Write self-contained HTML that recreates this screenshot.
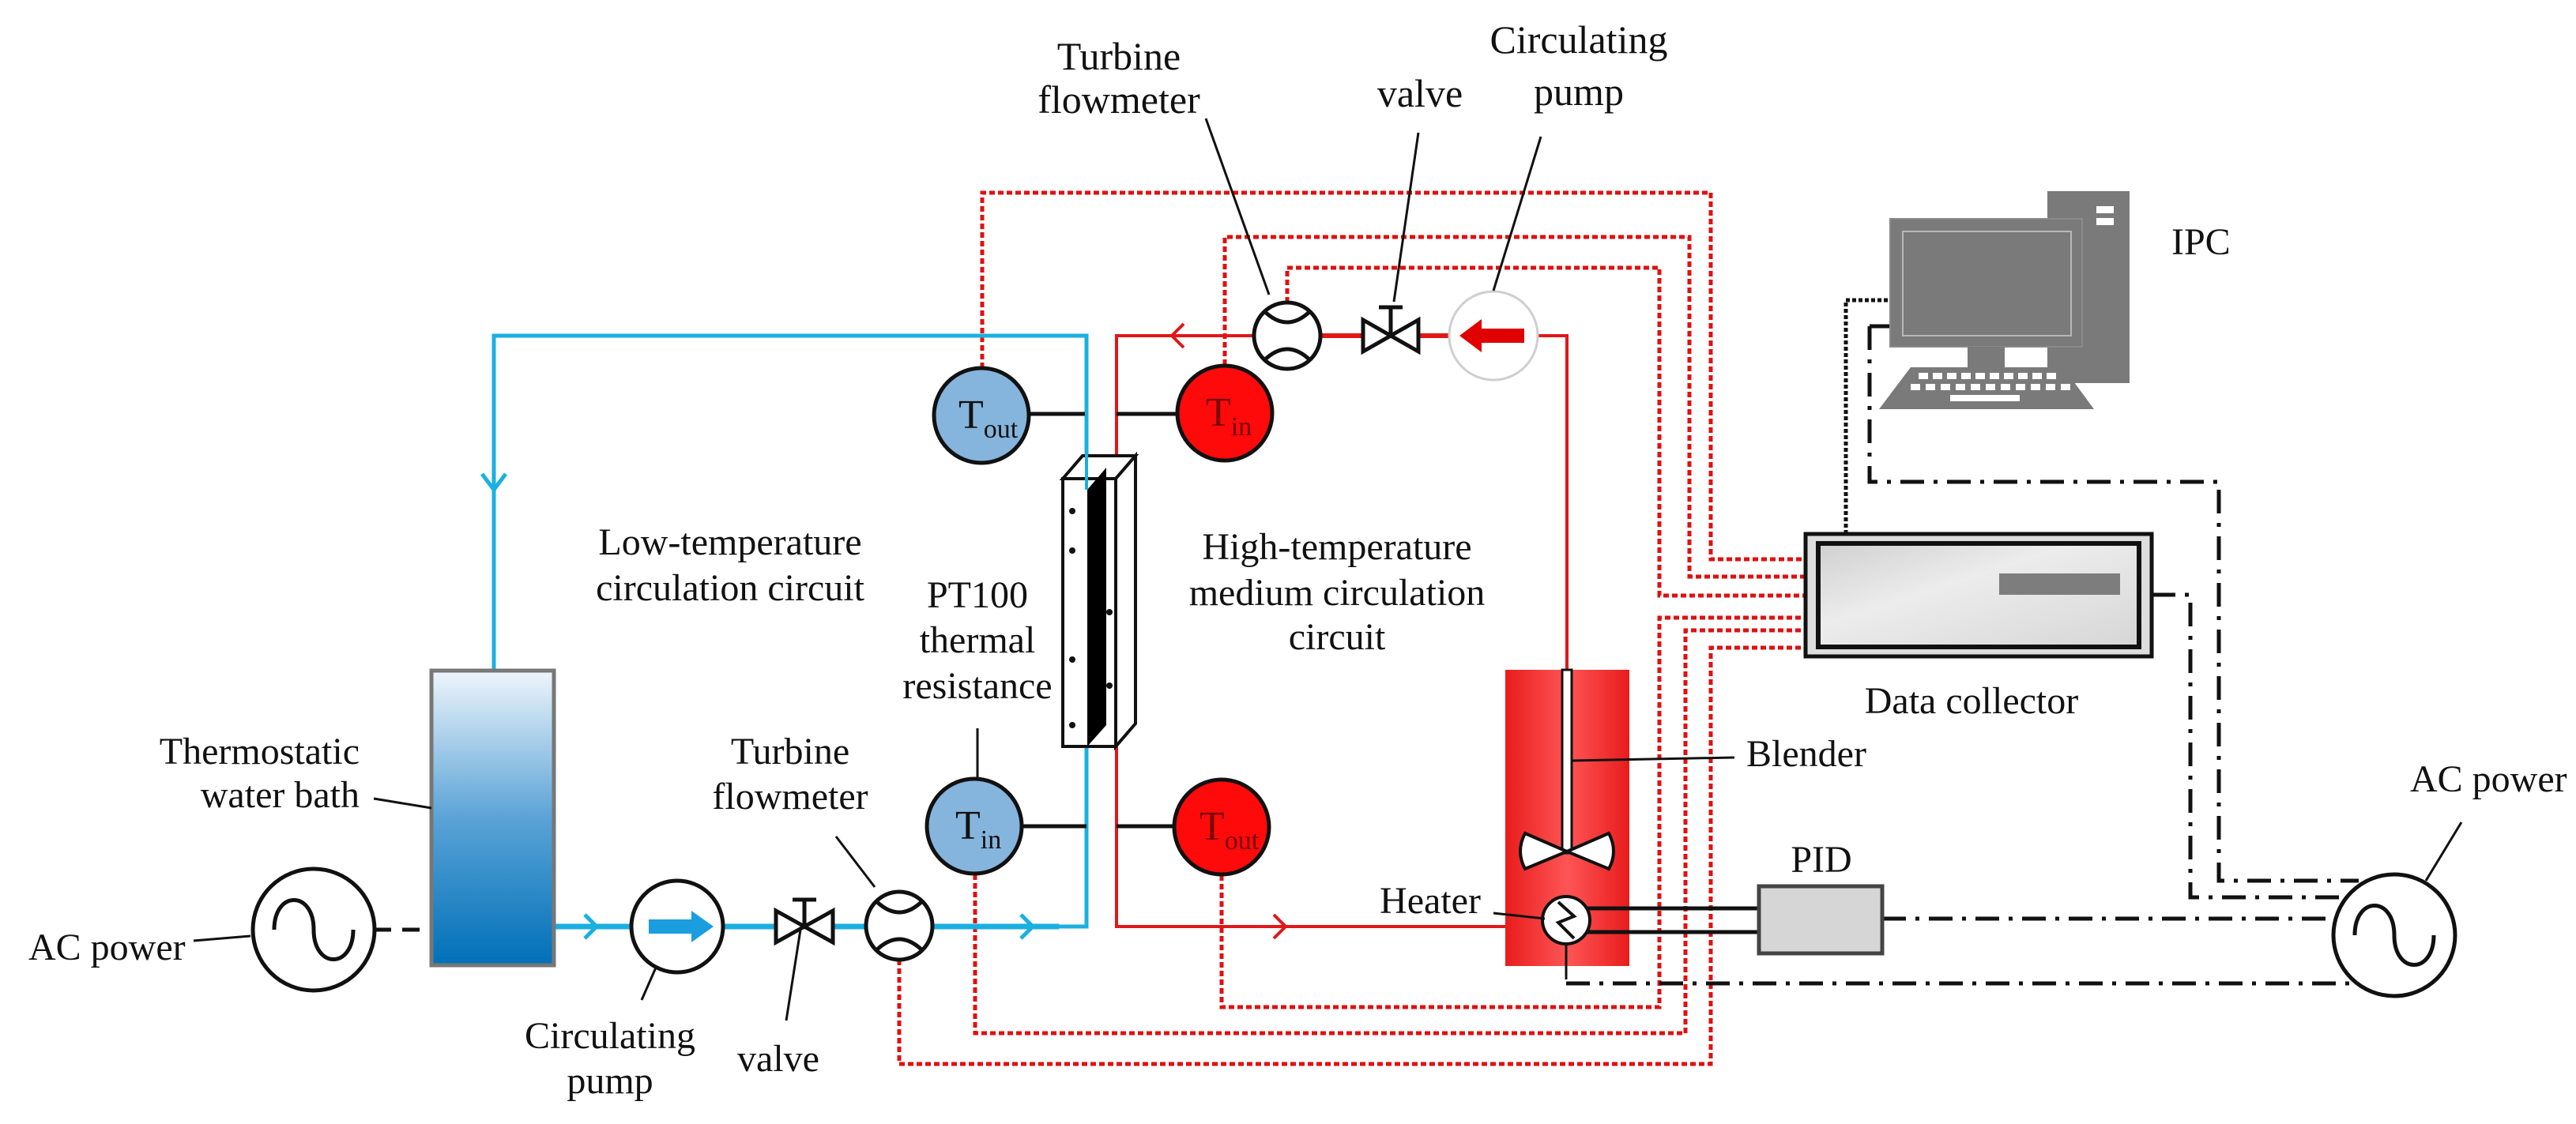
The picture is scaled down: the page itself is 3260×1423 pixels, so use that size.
<!DOCTYPE html>
<html><head><meta charset="utf-8"><style>html,body{margin:0;padding:0;background:#fff}svg{display:block}text{font-family:"Liberation Serif",serif;fill:#111}</style></head><body>
<svg width="3260" height="1423" viewBox="0 0 3260 1423" xmlns="http://www.w3.org/2000/svg">
<defs>
<linearGradient id="tank" x1="0" y1="0" x2="0" y2="1"><stop offset="0" stop-color="#eef5fb"/><stop offset="0.5" stop-color="#5aa3d6"/><stop offset="1" stop-color="#0070b8"/></linearGradient>
<linearGradient id="redt" x1="0" y1="0" x2="1" y2="0"><stop offset="0" stop-color="#e81c1c"/><stop offset="0.5" stop-color="#ff5555"/><stop offset="1" stop-color="#e81c1c"/></linearGradient>
<linearGradient id="dc" x1="0" y1="0" x2="1" y2="1"><stop offset="0" stop-color="#d0d0d0"/><stop offset="0.4" stop-color="#ececec"/><stop offset="1" stop-color="#d6d6d6"/></linearGradient>
</defs>

<g fill="none" stroke="#e01010" stroke-width="5" stroke-dasharray="7 4">
<polyline points="1243,466 1243,244 2165,244 2165,708 2285,708"/>
<polyline points="1550,462 1550,300 2138,300 2138,730 2285,730"/>
<polyline points="1629,383 1629,339 2100,339 2100,754 2285,754"/>
<polyline points="1546,1108 1546,1275 2100,1275 2100,782 2285,782"/>
<polyline points="1234,1107 1234,1308 2133,1308 2133,798 2285,798"/>
<polyline points="1138,1215 1138,1347 2165,1347 2165,820 2285,820"/>
</g>

<g fill="none" stroke="#111" stroke-width="5" stroke-dasharray="30 12 5 12">
<line x1="473" y1="1177" x2="546" y2="1177" stroke-dasharray="22 14"/>
<polyline points="2366,413 2366,610 2808,610 2808,1115 2985,1115"/>
<polyline points="2723,753 2772,753 2772,1136 2965,1136"/>
<line x1="2382" y1="1163" x2="2953" y2="1163"/>
<line x1="1982" y1="1245" x2="2985" y2="1245"/>
</g>
<line x1="2366" y1="413" x2="2398" y2="413" stroke="#111" stroke-width="5"/>
<polyline points="2336,676 2336,380 2402,380" fill="none" stroke="#111" stroke-width="5" stroke-dasharray="5 3"/>

<g fill="none" stroke="#1ab0e0" stroke-width="5">
<polyline points="625,849 625,425 1375,425 1375,1173 701,1173"/>
<polyline points="610,600 625,620 640,600"/>
<polyline points="740,1158 755,1173 740,1188"/>
<polyline points="1292,1158 1307,1173 1292,1188"/>
</g>
<line x1="701" y1="1173" x2="1340" y2="1173" stroke="#1ab0e0" stroke-width="7"/>

<g fill="none" stroke="#e01818" stroke-width="4">
<polyline points="1983,848 1983,425 1413,425 1413,1173 1905,1173"/>
<polyline points="1498,410 1483,425 1498,440"/>
<polyline points="1612,1158 1627,1173 1612,1188"/>
</g>
<line x1="1670" y1="425" x2="1850" y2="425" stroke="#e01818" stroke-width="6"/>

<rect x="546" y="849" width="155" height="373" fill="url(#tank)" stroke="#777" stroke-width="5"/>

<circle cx="397" cy="1177" r="77" fill="#fff" stroke="#111" stroke-width="5"/>
<path d="M347,1177 C347,1127 397,1127 397,1177 C397,1227 447,1227 447,1177" fill="none" stroke="#111" stroke-width="5"/>
<line x1="245" y1="1191" x2="317" y2="1185" stroke="#111" stroke-width="3"/>
<text x="36" y="1215" font-size="48">AC power</text>
<text x="455" y="967" font-size="48" text-anchor="end">Thermostatic</text>
<text x="455" y="1022" font-size="48" text-anchor="end">water bath</text>
<line x1="473" y1="1011" x2="546" y2="1023" stroke="#111" stroke-width="3"/>

<circle cx="857" cy="1173" r="58" fill="#fff" stroke="#111" stroke-width="5"/>
<path d="M821,1164 L875,1164 L875,1153 L903,1173 L875,1193 L875,1182 L821,1182 Z" fill="#1a9ee0"/>
<line x1="830" y1="1225" x2="812" y2="1266" stroke="#111" stroke-width="3"/>
<text x="772" y="1327" font-size="48" text-anchor="middle">Circulating</text>
<text x="772" y="1384" font-size="48" text-anchor="middle">pump</text>

<g stroke="#111" stroke-width="5" fill="#fff">
<polygon points="982,1153 1018,1173 982,1193"/><polygon points="1054,1153 1018,1173 1054,1193"/>
<line x1="1018" y1="1173" x2="1018" y2="1139"/><line x1="1003" y1="1139" x2="1033" y2="1139"/>
</g>
<line x1="1013" y1="1177" x2="995" y2="1292" stroke="#111" stroke-width="3"/>
<text x="985" y="1356" font-size="48" text-anchor="middle">valve</text>

<ellipse cx="1138" cy="1172" rx="42" ry="43" fill="#fff" stroke="#111" stroke-width="5"/>
<path d="M1108,1140 Q1138,1170 1168,1140 M1108,1204 Q1138,1174 1168,1204" fill="none" stroke="#111" stroke-width="5"/>
<line x1="1058" y1="1059" x2="1107" y2="1123" stroke="#111" stroke-width="3"/>
<text x="1000" y="967" font-size="48" text-anchor="middle">Turbine</text>
<text x="1000" y="1024" font-size="48" text-anchor="middle">flowmeter</text>

<text x="924" y="702" font-size="48" text-anchor="middle">Low-temperature</text>
<text x="924" y="760" font-size="48" text-anchor="middle">circulation circuit</text>

<g stroke="#111" stroke-width="5">
<line x1="1300" y1="524" x2="1375" y2="524"/><line x1="1413" y1="524" x2="1490" y2="524"/>
<line x1="1293" y1="1046" x2="1375" y2="1046"/><line x1="1413" y1="1046" x2="1486" y2="1046"/>
</g>
<line x1="1237" y1="922" x2="1237" y2="986" stroke="#111" stroke-width="3"/>

<g stroke="#111" stroke-width="5">
<circle cx="1242" cy="526" r="60" fill="#85b4dc"/>
<circle cx="1233" cy="1046" r="60" fill="#85b4dc"/>
<circle cx="1550" cy="523" r="60" fill="#ff0a0a"/>
<circle cx="1546" cy="1047" r="60" fill="#ff0a0a"/>
</g>
<text x="1213" y="542" font-size="52">T<tspan font-size="34" dy="12">out</tspan></text>
<text x="1209" y="1062" font-size="52">T<tspan font-size="34" dy="12">in</tspan></text>
<text x="1526" y="539" font-size="52" style="fill:#700">T<tspan font-size="34" dy="12">in</tspan></text>
<text x="1518" y="1063" font-size="52" style="fill:#700">T<tspan font-size="34" dy="12">out</tspan></text>

<text x="1237" y="769" font-size="48" text-anchor="middle">PT100</text>
<text x="1237" y="826" font-size="48" text-anchor="middle">thermal</text>
<text x="1237" y="884" font-size="48" text-anchor="middle">resistance</text>

<g stroke="#111" stroke-width="4" fill="#fff">
<polygon points="1345,606 1370,577 1437,577 1412,606"/>
<polygon points="1412,606 1437,577 1437,916 1412,945"/>
<rect x="1345" y="606" width="67" height="339"/>
</g>
<polygon points="1376,620 1400,592 1400,918 1376,945" fill="#000"/>
<line x1="1375" y1="425" x2="1375" y2="620" stroke="#1ab0e0" stroke-width="4"/>
<g fill="#111"><circle cx="1357" cy="647" r="4"/><circle cx="1357" cy="697" r="4"/><circle cx="1357" cy="835" r="4"/><circle cx="1357" cy="918" r="4"/><circle cx="1404" cy="775" r="4"/><circle cx="1404" cy="868" r="4"/></g>

<text x="1692" y="708" font-size="48" text-anchor="middle">High-temperature</text>
<text x="1692" y="766" font-size="48" text-anchor="middle">medium circulation</text>
<text x="1692" y="822" font-size="48" text-anchor="middle">circuit</text>

<ellipse cx="1629" cy="425" rx="42" ry="42" fill="#fff" stroke="#111" stroke-width="5"/>
<path d="M1599,393 Q1629,423 1659,393 M1599,457 Q1629,427 1659,457" fill="none" stroke="#111" stroke-width="5"/>
<g stroke="#111" stroke-width="5" fill="#fff">
<polygon points="1725,405 1760,425 1725,445"/><polygon points="1795,405 1760,425 1795,445"/>
<line x1="1760" y1="425" x2="1760" y2="389"/><line x1="1745" y1="389" x2="1775" y2="389"/>
</g>
<circle cx="1890" cy="425" r="56" fill="#fff" stroke="#cfcfcf" stroke-width="3"/>
<path d="M1929,416 L1875,416 L1875,404 L1847,425 L1875,446 L1875,434 L1929,434 Z" fill="#e00000"/>
<g stroke="#111" stroke-width="3">
<line x1="1606" y1="373" x2="1526" y2="150"/><line x1="1764" y1="382" x2="1795" y2="168"/><line x1="1890" y1="368" x2="1950" y2="173"/>
</g>
<text x="1416" y="88" font-size="50" text-anchor="middle">Turbine</text>
<text x="1416" y="143" font-size="50" text-anchor="middle">flowmeter</text>
<text x="1797" y="135" font-size="50" text-anchor="middle">valve</text>
<text x="1998" y="67" font-size="50" text-anchor="middle">Circulating</text>
<text x="1998" y="133" font-size="50" text-anchor="middle">pump</text>

<rect x="1905" y="848" width="157" height="375" fill="url(#redt)"/>
<rect x="1977" y="848" width="12" height="232" fill="#fff" stroke="#111" stroke-width="3"/>
<path d="M1983,1078 L1930,1055 Q1918,1078 1930,1100 Z M1983,1078 L2036,1055 Q2048,1078 2036,1100 Z" fill="#fff" stroke="#111" stroke-width="4"/>
<line x1="1990" y1="963" x2="2195" y2="959" stroke="#111" stroke-width="3"/>
<text x="2210" y="970" font-size="48">Blender</text>
<g stroke="#111" stroke-width="5"><line x1="1982" y1="1150" x2="2226" y2="1150"/><line x1="1982" y1="1180" x2="2226" y2="1180"/></g>
<line x1="1982" y1="1195" x2="1982" y2="1240" stroke="#111" stroke-width="3"/>
<circle cx="1982" cy="1165" r="30" fill="#fff" stroke="#111" stroke-width="4"/>
<polyline points="1972,1142 1992,1160 1972,1168 1992,1188" fill="none" stroke="#111" stroke-width="4"/>
<line x1="1890" y1="1156" x2="1955" y2="1163" stroke="#111" stroke-width="3"/>
<text x="1810" y="1156" font-size="48" text-anchor="middle">Heater</text>

<rect x="2226" y="1122" width="156" height="85" fill="#d6d6d6" stroke="#444" stroke-width="5"/>
<text x="2305" y="1104" font-size="48" text-anchor="middle">PID</text>

<circle cx="3030" cy="1184" r="77" fill="#fff" stroke="#111" stroke-width="5"/>
<path d="M2980,1184 C2980,1134 3030,1134 3030,1184 C3030,1234 3080,1234 3080,1184" fill="none" stroke="#111" stroke-width="5"/>
<line x1="3115" y1="1041" x2="3070" y2="1115" stroke="#111" stroke-width="3"/>
<text x="3050" y="1002" font-size="48">AC power</text>

<rect x="2285" y="676" width="438" height="155" fill="#ddd" stroke="#111" stroke-width="5"/>
<rect x="2301" y="688" width="406" height="131" fill="url(#dc)" stroke="#111" stroke-width="6"/>
<rect x="2530" y="726" width="153" height="27" fill="#7d7d7d"/>
<text x="2495" y="903" font-size="48" text-anchor="middle">Data collector</text>

<rect x="2591" y="242" width="104" height="243" fill="#7a7a7a"/>
<rect x="2653" y="261" width="22" height="9" fill="#fff"/><rect x="2653" y="276" width="22" height="9" fill="#fff"/>
<rect x="2392" y="277" width="243" height="162" fill="#7a7a7a" stroke="#8a8a8a" stroke-width="2"/>
<rect x="2408" y="293" width="213" height="132" fill="#7a7a7a" stroke="#b8b8b8" stroke-width="2"/>
<rect x="2490" y="439" width="47" height="27" fill="#7a7a7a"/>
<polygon points="2418,465 2611,465 2650,518 2378,518" fill="#7a7a7a"/>
<g fill="#fff">
<rect x="2428" y="472" width="12" height="8"/><rect x="2446" y="472" width="12" height="8"/><rect x="2464" y="472" width="12" height="8"/><rect x="2482" y="472" width="12" height="8"/><rect x="2500" y="472" width="12" height="8"/><rect x="2518" y="472" width="12" height="8"/><rect x="2536" y="472" width="12" height="8"/><rect x="2554" y="472" width="12" height="8"/><rect x="2572" y="472" width="12" height="8"/><rect x="2590" y="472" width="12" height="8"/>
<rect x="2418" y="486" width="12" height="8"/><rect x="2437" y="486" width="12" height="8"/><rect x="2456" y="486" width="12" height="8"/><rect x="2475" y="486" width="12" height="8"/><rect x="2494" y="486" width="12" height="8"/><rect x="2513" y="486" width="12" height="8"/><rect x="2532" y="486" width="12" height="8"/><rect x="2551" y="486" width="12" height="8"/><rect x="2570" y="486" width="12" height="8"/><rect x="2589" y="486" width="12" height="8"/><rect x="2608" y="486" width="12" height="8"/>
<rect x="2468" y="500" width="88" height="8"/>
</g>
<text x="2748" y="322" font-size="48">IPC</text>
</svg>
</body></html>
